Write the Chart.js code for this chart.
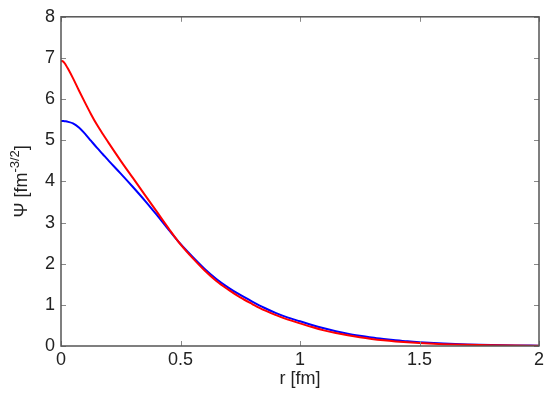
<!DOCTYPE html>
<html>
<head>
<meta charset="utf-8">
<script src="https://cdn.jsdelivr.net/npm/chart.js@4.4.0/dist/chart.umd.min.js"></script>
<style>
  html, body { margin: 0; padding: 0; background: #fff; }
  #wrap { width: 550px; height: 394px; }
</style>
</head>
<body>
<div id="wrap"><canvas id="canvas"></canvas></div>
<script>
// r [fm]
const rValues = [0, 0.01, 0.02, 0.03, 0.05, 0.075, 0.1, 0.125, 0.15, 0.175, 0.2, 0.25, 0.3, 0.35, 0.4, 0.45, 0.5,
  0.55, 0.6, 0.65, 0.7, 0.75, 0.8, 0.85, 0.9, 0.95, 1.0, 1.05, 1.1, 1.15, 1.2, 1.25, 1.3, 1.35, 1.4, 1.45, 1.5,
  1.6, 1.7, 1.8, 1.9, 2.0];
// red curve
const psiRed = [6.93, 6.91, 6.83, 6.73, 6.51, 6.21, 5.92, 5.64, 5.38, 5.15, 4.93, 4.50, 4.09, 3.68, 3.27, 2.86, 2.47,
  2.14, 1.84, 1.58, 1.37, 1.18, 1.02, 0.87, 0.75, 0.64, 0.55, 0.46, 0.38, 0.315, 0.26, 0.212, 0.172, 0.139, 0.112, 0.09, 0.072,
  0.045, 0.028, 0.017, 0.010, 0.006];
// blue curve
const psiBlue = [5.47, 5.468, 5.46, 5.447, 5.41, 5.31, 5.16, 4.99, 4.82, 4.66, 4.50, 4.19, 3.87, 3.54, 3.19, 2.83, 2.48,
  2.17, 1.88, 1.63, 1.42, 1.24, 1.08, 0.93, 0.80, 0.69, 0.60, 0.51, 0.43, 0.36, 0.30, 0.25, 0.205, 0.17, 0.14, 0.113, 0.092,
  0.060, 0.038, 0.024, 0.015, 0.009];
const xTicks = [0, 0.5, 1, 1.5, 2];
const yTicks = [0, 1, 2, 3, 4, 5, 6, 7, 8];

const font = "'Liberation Sans', Arial, sans-serif";

const toPoints = (ys) => rValues.map((r, i) => ({ x: r, y: ys[i] }));

const framePlugin = {
  id: "frame",
  afterDraw(chart) {
    const ctx = chart.ctx;
    const a = chart.chartArea;
    const xs = chart.scales.x;
    const ys = chart.scales.y;
    ctx.save();
    ctx.strokeStyle = "#888";
    ctx.lineWidth = 1;
    ctx.beginPath();
    xTicks.forEach((v) => {
      const px = Math.round(xs.getPixelForValue(v)) + 0.5;
      ctx.moveTo(px, a.bottom); ctx.lineTo(px, a.bottom - 5);
      ctx.moveTo(px, a.top); ctx.lineTo(px, a.top + 5);
    });
    yTicks.forEach((v) => {
      const py = Math.round(ys.getPixelForValue(v)) + 0.5;
      ctx.moveTo(a.left, py); ctx.lineTo(a.left + 5, py);
      ctx.moveTo(a.right, py); ctx.lineTo(a.right - 5, py);
    });
    ctx.stroke();
    ctx.strokeStyle = "#555";
    ctx.lineWidth = 1.5;
    ctx.strokeRect(a.left, a.top, a.right - a.left, a.bottom - a.top);

    // y title with superscript
    const big = "18px " + font;
    const small = "13px " + font;
    ctx.fillStyle = "#222";
    ctx.textBaseline = "alphabetic";
    ctx.font = big;
    const w1 = ctx.measureText("\u03a8 [fm").width;
    const w3 = ctx.measureText("]").width;
    ctx.font = small;
    const w2 = ctx.measureText("-3/2").width;
    const total = w1 + w2 + w3;
    ctx.translate(27, (a.top + a.bottom) / 2);
    ctx.rotate(-Math.PI / 2);
    let x0 = -total / 2;
    ctx.font = big;
    ctx.fillText("\u03a8 [fm", x0, 0);
    ctx.font = small;
    ctx.fillText("-3/2", x0 + w1, -8);
    ctx.font = big;
    ctx.fillText("]", x0 + w1 + w2, 0);
    ctx.restore();
  },
};

const config = {
  type: "scatter",
  data: {
    datasets: [
      {
        data: toPoints(psiRed),
        borderColor: "#ff0000",
        backgroundColor: "#ff0000",
        borderWidth: 2,
        showLine: true,
        pointRadius: 0,
        cubicInterpolationMode: "monotone",
      },
      {
        data: toPoints(psiBlue),
        borderColor: "#0000ff",
        backgroundColor: "#0000ff",
        borderWidth: 2,
        showLine: true,
        pointRadius: 0,
        cubicInterpolationMode: "monotone",
      },
    ],
  },
  options: {
    responsive: true,
    maintainAspectRatio: false,
    animation: false,
    layout: { padding: { left: 0, top: 11, right: 11, bottom: 0 } },
    plugins: { legend: { display: false }, tooltip: { enabled: false } },
    scales: {
      x: {
        type: "linear",
        min: 0,
        max: 2,
        afterFit: (s) => { s.height = 48; },
        afterBuildTicks: (s) => { s.ticks = xTicks.map((v) => ({ value: v })); },
        grid: { display: false, drawTicks: false },
        border: { display: false },
        ticks: {
          autoSkip: false,
          maxRotation: 0,
          padding: 3,
          color: "#222",
          font: { family: font, size: 18 },
          callback: (v) => String(v),
        },
        title: {
          display: true,
          text: "r [fm]",
          color: "#222",
          font: { family: font, size: 18 },
          padding: { top: 0, bottom: 4 },
        },
      },
      y: {
        type: "linear",
        min: 0,
        max: 8,
        afterFit: (s) => { s.width = 61; },
        afterBuildTicks: (s) => { s.ticks = yTicks.map((v) => ({ value: v })); },
        grid: { display: false, drawTicks: false },
        border: { display: false },
        ticks: {
          autoSkip: false,
          padding: 6,
          color: "#222",
          font: { family: font, size: 18 },
        },
      },
    },
  },
  plugins: [framePlugin],
};

const charts = new Chart(document.getElementById("canvas"), config);
</script>
</body>
</html>
